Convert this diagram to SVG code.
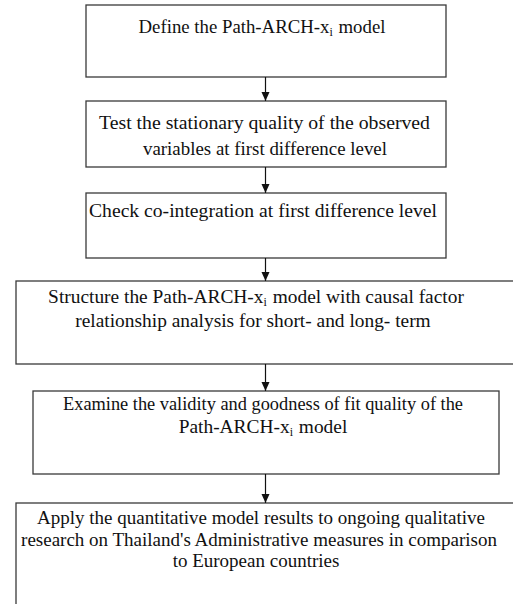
<svg xmlns="http://www.w3.org/2000/svg" width="513" height="604" viewBox="0 0 513 604">
<style>
.box{fill:#fff;stroke:#3a3a3a;stroke-width:1.3}
.t{font-family:"Liberation Serif","Times New Roman",serif;font-size:19.4px;fill:#111;text-anchor:middle}
.s{font-size:12px}
.c{stroke:#111;stroke-width:1.2;fill:none}
</style>
<defs>
<marker id="ah" markerWidth="10" markerHeight="10" refX="9" refY="5" orient="auto" markerUnits="userSpaceOnUse"><path d="M0,1 L9,5 L0,9 Z" fill="#111"/></marker>
</defs>
<rect width="513" height="604" fill="#fff"/>
<g id="n1"><rect class="box" x="86" y="5" width="360" height="72"/><text class="t" x="262" y="33" style="font-size:18.8px">Define the Path-ARCH-x<tspan class="s" dy="3">i</tspan><tspan dy="-3" dx="1"> model</tspan></text></g>
<g id="n2"><rect class="box" x="86" y="101" width="360" height="66"/><text class="t" x="264.5" y="129" textLength="331" lengthAdjust="spacingAndGlyphs">Test the stationary quality of the observed</text><text class="t" x="265" y="155" textLength="244" lengthAdjust="spacingAndGlyphs">variables at first difference level</text></g>
<g id="n3"><rect class="box" x="86" y="193" width="360" height="65"/><text class="t" x="263" y="217" textLength="348" lengthAdjust="spacingAndGlyphs">Check co-integration at first difference level</text></g>
<g id="n4"><rect class="box" x="16" y="281" width="510" height="83"/><text class="t" x="256" y="303">Structure the Path-ARCH-x<tspan class="s" dy="3">i</tspan><tspan dy="-3" dx="1"> model with causal factor</tspan></text><text class="t" x="253" y="327">relationship analysis for short- and long- term</text></g>
<g id="n5"><rect class="box" x="33" y="391" width="466" height="83"/><text class="t" x="263" y="410" textLength="400" lengthAdjust="spacingAndGlyphs">Examine the validity and goodness of fit quality of the</text><text class="t" x="263" y="433">Path-ARCH-x<tspan class="s" dy="3">i</tspan><tspan dy="-3" dx="1"> model</tspan></text></g>
<g id="n6"><rect class="box" x="16" y="503" width="510" height="110"/><text class="t" x="261" y="524" style="font-size:19px">Apply the quantitative model results to ongoing qualitative</text><text class="t" x="259" y="546" style="font-size:19px">research on Thailand's Administrative measures in comparison</text><text class="t" x="256" y="567" style="font-size:19px">to European countries</text></g>
<g id="connectors">
<line class="c" x1="265.5" y1="77" x2="265.5" y2="101" marker-end="url(#ah)"/>
<line class="c" x1="265.5" y1="167" x2="265.5" y2="193" marker-end="url(#ah)"/>
<line class="c" x1="265.5" y1="258" x2="265.5" y2="281" marker-end="url(#ah)"/>
<line class="c" x1="265.5" y1="364" x2="265.5" y2="391" marker-end="url(#ah)"/>
<line class="c" x1="265.5" y1="474" x2="265.5" y2="503" marker-end="url(#ah)"/>
</g>
</svg>
